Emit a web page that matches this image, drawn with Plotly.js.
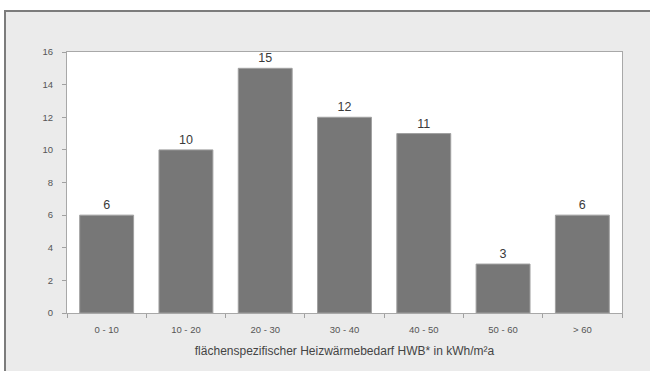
<!DOCTYPE html>
<html><head><meta charset="utf-8">
<script src="https://cdn.plot.ly/plotly-3.0.1.min.js"></script>
<style>
html,body{margin:0;padding:0;background:#ffffff;width:650px;height:371px;overflow:hidden}
#wrap{position:absolute;left:4px;top:10px;border-top:2px solid #7c7c7c;border-left:2px solid #7c7c7c;background:#ebebeb}
#chart{width:644px;height:359px}
</style></head>
<body><div id="wrap"><div id="chart"></div></div>
<script>
const categories = ["0 - 10","10 - 20","20 - 30","30 - 40","40 - 50","50 - 60","> 60"];
const counts = [6,10,15,12,11,3,6];
const yTicks = [0,2,4,6,8,10,12,14,16];

Plotly.newPlot('chart',[{
  type:'bar', x:categories, y:counts,
  text:counts.map(String), textposition:'outside', cliponaxis:false,
  textfont:{family:'Liberation Sans, Arial, sans-serif', size:12.5, color:'#3a3a3a'},
  marker:{color:'#777777', line:{color:'#a0a0a0', width:1}},
  hoverinfo:'none'
}],{
  width:644, height:359,
  margin:{l:61, r:28, t:40, b:58},
  paper_bgcolor:'#ebebeb', plot_bgcolor:'#ffffff',
  bargap:0.32, showlegend:false,
  font:{family:'Liberation Sans, Arial, sans-serif', color:'#555555'},
  xaxis:{type:'category', tickson:'boundaries', ticks:'outside', ticklen:4, tickcolor:'#a0a0a0',
    showline:true, linecolor:'#a8a8a8', linewidth:1, mirror:true, showgrid:false,
    ticklabelstandoff:8,
    tickfont:{size:9.5, color:'#555555'},
    title:{text:'flächenspezifischer Heizwärmebedarf HWB* in kWh/m²a', font:{size:12, color:'#444444'}, standoff:12}},
  yaxis:{range:[0,16], tickvals:yTicks, ticks:'outside', ticklen:4, tickcolor:'#a0a0a0',
    showline:true, linecolor:'#a8a8a8', linewidth:1, mirror:true, showgrid:false, zeroline:false,
    ticklabelstandoff:7,
    tickfont:{size:9.5, color:'#555555'}}
},{staticPlot:true, displayModeBar:false});
</script></body></html>
